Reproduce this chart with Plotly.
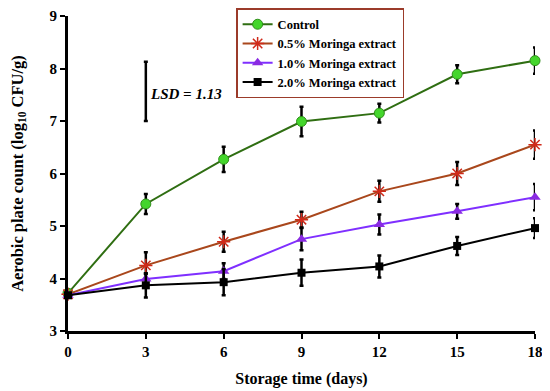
import plotly.graph_objects as go

days = [0, 3, 6, 9, 12, 15, 18]
series_names = ["Control", "0.5% Moringa extract", "1.0% Moringa extract", "2.0% Moringa extract"]
control = [3.72, 5.42, 6.27, 6.99, 7.15, 7.89, 8.15]
control_err = [0, 0.19, 0.24, 0.28, 0.18, 0.17, 0.25]
m05 = [3.70, 4.25, 4.70, 5.12, 5.66, 6.00, 6.55]
m05_err = [0, 0.25, 0.19, 0.15, 0.20, 0.22, 0.27]
m10 = [3.68, 3.99, 4.14, 4.75, 5.03, 5.28, 5.55]
m10_err = [0, 0.10, 0.15, 0.21, 0.19, 0.14, 0.25]
m20 = [3.68, 3.87, 3.93, 4.11, 4.23, 4.62, 4.96]
m20_err = [0, 0.23, 0.25, 0.25, 0.21, 0.17, 0.19]
lsd_x = 3
lsd_base = 7.0
lsd_value = 1.13

FONT = "Liberation Serif"

styles = [
    dict(line=dict(color="#2F6E12", width=2),
         marker=dict(symbol="circle", size=10, color="#44D62C", line=dict(color="#2F8E1A", width=1))),
    dict(line=dict(color="#A9471C", width=2),
         marker=dict(symbol="asterisk-open", size=11, color="#D02A1A", line=dict(color="#C0301A", width=1.5))),
    dict(line=dict(color="#7F2FFF", width=2),
         marker=dict(symbol="triangle-up", size=10, color="#8A2BE2", line=dict(color="#7F2FFF", width=0))),
    dict(line=dict(color="#000000", width=2),
         marker=dict(symbol="square", size=8, color="#000000")),
]

fig = go.Figure()
for name, ys, errs, st in zip(series_names, [control, m05, m10, m20],
                              [control_err, m05_err, m10_err, m20_err], styles):
    fig.add_trace(go.Scatter(
        x=days, y=ys, name=f"<b>{name}</b>", mode="lines+markers",
        line=st["line"], marker=st["marker"], cliponaxis=False,
        error_y=dict(type="data", array=errs, visible=True, color="#000000",
                     thickness=2.5, width=2),
    ))

# LSD bar
fig.add_trace(go.Scatter(
    x=[lsd_x], y=[lsd_base + lsd_value / 2], mode="markers",
    marker=dict(size=1, color="rgba(0,0,0,0)"), showlegend=False, hoverinfo="skip",
    error_y=dict(type="data", array=[lsd_value / 2], visible=True, color="#000000",
                 thickness=2.5, width=2),
))
fig.add_annotation(x=lsd_x + 0.08, y=lsd_base + lsd_value * 0.45, xref="x", yref="y",
                   text=f"<b><i>LSD = {lsd_value:.2f}</i></b>", showarrow=False,
                   xanchor="left", yanchor="middle",
                   font=dict(family=FONT, size=15, color="#000000"))

fig.update_layout(
    width=542, height=383,
    margin=dict(l=60, r=15, t=8, b=60, autoexpand=False),
    plot_bgcolor="white", paper_bgcolor="white",
    font=dict(family=FONT, color="#000000"),
    legend=dict(
        x=0.36, y=1.025, xanchor="left", yanchor="top",
        bgcolor="white", bordercolor="#9B3B2A", borderwidth=1.5,
        font=dict(family=FONT, size=12.5, color="#000000"),
        itemwidth=30, tracegroupgap=0,
    ),
    showlegend=True,
)
fig.update_xaxes(
    range=[0, 18], tickvals=days, ticktext=[f"<b>{d}</b>" for d in days],
    showline=True, linecolor="#000000", linewidth=3, mirror=False,
    ticks="outside", ticklen=5, tickwidth=2, tickcolor="#000000",
    showgrid=False, zeroline=False, automargin=False,
    tickfont=dict(family=FONT, size=15, color="#000000"),
    title=dict(text="<b>Storage time (days)</b>", font=dict(family=FONT, size=16), standoff=14),
)
fig.update_yaxes(
    range=[3, 9], tickvals=[3, 4, 5, 6, 7, 8, 9],
    ticktext=[f"<b>{v}</b>" for v in [3, 4, 5, 6, 7, 8, 9]],
    showline=True, linecolor="#000000", linewidth=3, mirror=False,
    ticks="outside", ticklen=5, tickwidth=2, tickcolor="#000000",
    showgrid=False, zeroline=False, automargin=False,
    tickfont=dict(family=FONT, size=15, color="#000000"),
    title=dict(text="<b>Aerobic plate count (log<sub>10</sub> CFU/g)</b>",
               font=dict(family=FONT, size=16.5), standoff=28),
)

fig.write_html("out.html")
